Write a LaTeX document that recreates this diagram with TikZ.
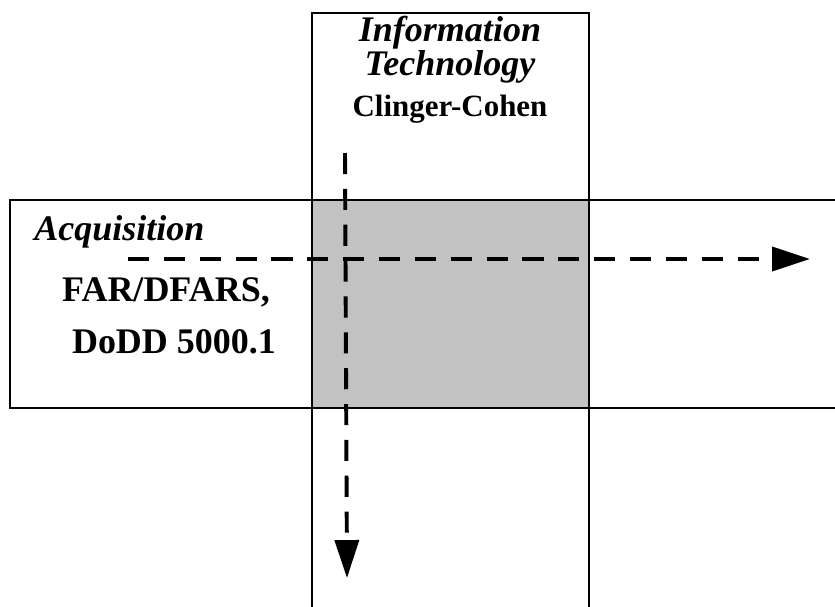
\documentclass[tikz,border=0pt]{standalone}
\usepackage{fontspec}
\setmainfont{Liberation Serif}
\usetikzlibrary{arrows.meta,positioning}
\tikzset{
  >={Triangle[length=27pt,width=17pt]},
  band/.style={draw=black,line width=1.4pt,inner sep=0pt,fill=white},
  overlap/.style={band,fill=black!24},
  flow/.style={->,line width=2.8pt,dash pattern=on 15pt off 10.5pt},
  ital/.style={font=\fontsize{25.6}{17.5}\selectfont\bfseries\itshape,align=center,inner sep=0pt},
  bld/.style={font=\fontsize{25.6}{30}\selectfont\bfseries,inner sep=0pt},
}
\begin{document}
\begin{tikzpicture}[x=0.025cm,y=-0.025cm]
  \useasboundingbox[fill=white] (0,0) rectangle (835,606);
  % the two bands and their overlap
  \node[band,minimum width=6.925cm,minimum height=15.175cm] (itcol) at (450.5,316.5) {};
  \node[band,minimum width=21cm,minimum height=5.2cm] (acqrow) at (430,304) {};
  \node[overlap,minimum width=6.925cm,minimum height=5.2cm] (both) at (450.5,304) {};
  % labels
  \node[ital] (itlab) at (450,50) {Information\\Technology};
  \node[bld,font=\fontsize{22}{26}\selectfont\bfseries] (cclab) at (450,109) {Clinger-Cohen};
  \node[ital,anchor=west] (acqlab) at (34,232) {Acquisition};
  \node[bld] (farlab) at (166,292) {FAR/DFARS,};
  \node[bld,below=0.55cm of farlab.south,anchor=north,xshift=0.2cm] (doddlab) {DoDD 5000.1};
  % flows
  \coordinate (hstart) at (128,259);
  \coordinate (hend) at (810,259);
  \coordinate (vstart) at (345,153);
  \coordinate (vend) at (347,578);
  \draw[flow] (hstart) -- (hend);
  \draw[flow] (vstart) -- (vend);
\end{tikzpicture}
\end{document}
